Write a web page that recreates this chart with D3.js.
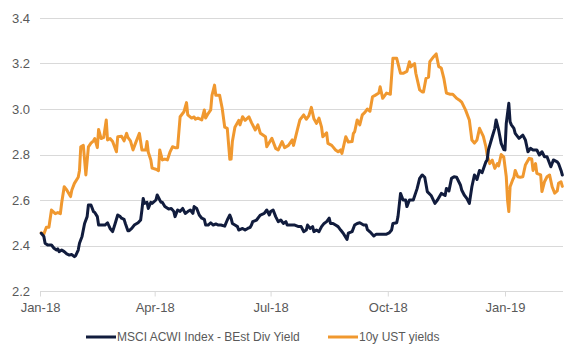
<!DOCTYPE html>
<html>
<head>
<meta charset="utf-8">
<script src="https://cdn.jsdelivr.net/npm/d3@7"></script>
<style>
  html, body { margin: 0; padding: 0; background: #ffffff; }
  svg { display: block; font-family: "Liberation Sans", Arial, sans-serif; }
</style>
</head>
<body>
<svg id="chart" width="582" height="360"></svg>
<script>
// ---- Data ----
const seriesNames = ["MSCI ACWI Index - BEst Div Yield", "10y UST yields"];
const yTicks = [2.2, 2.4, 2.6, 2.8, 3.0, 3.2, 3.4];
const xTickLabels = ["18-01-01", "18-04-01", "18-07-01", "18-10-01", "19-01-01"];

const ustDates = ["18-01-02","18-01-04","18-01-06","18-01-08","18-01-10","18-01-13","18-01-15","18-01-17","18-01-18","18-01-20","18-01-22","18-01-25","18-01-26","18-01-28","18-01-31","18-02-01","18-02-02","18-02-04","18-02-05","18-02-06","18-02-08","18-02-10","18-02-12","18-02-13","18-02-15","18-02-16","18-02-18","18-02-20","18-02-22","18-02-23","18-02-25","18-02-27","18-03-02","18-03-03","18-03-06","18-03-08","18-03-10","18-03-11","18-03-13","18-03-15","18-03-17","18-03-20","18-03-22","18-03-25","18-03-26","18-03-27","18-03-29","18-03-30","18-04-02","18-04-04","18-04-05","18-04-07","18-04-09","18-04-11","18-04-13","18-04-15","18-04-17","18-04-19","18-04-21","18-04-24","18-04-26","18-04-27","18-04-30","18-05-02","18-05-03","18-05-05","18-05-08","18-05-10","18-05-11","18-05-13","18-05-15","18-05-16","18-05-18","18-05-19","18-05-22","18-05-24","18-05-26","18-05-28","18-05-30","18-05-31","18-06-01","18-06-03","18-06-06","18-06-07","18-06-09","18-06-11","18-06-14","18-06-16","18-06-19","18-06-21","18-06-23","18-06-27","18-06-28","18-07-02","18-07-05","18-07-07","18-07-10","18-07-12","18-07-15","18-07-18","18-07-19","18-07-22","18-07-24","18-07-27","18-07-29","18-07-31","18-08-02","18-08-04","18-08-06","18-08-08","18-08-10","18-08-11","18-08-14","18-08-15","18-08-18","18-08-21","18-08-23","18-08-25","18-08-26","18-08-29","18-08-31","18-09-03","18-09-04","18-09-05","18-09-07","18-09-09","18-09-11","18-09-13","18-09-15","18-09-17","18-09-19","18-09-21","18-09-24","18-09-25","18-09-27","18-09-30","18-10-03","18-10-05","18-10-08","18-10-11","18-10-13","18-10-16","18-10-18","18-10-19","18-10-22","18-10-23","18-10-26","18-10-28","18-10-29","18-10-31","18-11-02","18-11-03","18-11-06","18-11-08","18-11-10","18-11-12","18-11-14","18-11-16","18-11-19","18-11-21","18-11-24","18-11-26","18-11-28","18-12-01","18-12-04","18-12-06","18-12-08","18-12-10","18-12-12","18-12-15","18-12-17","18-12-18","18-12-20","18-12-22","18-12-24","18-12-26","18-12-27","18-12-29","18-12-31","19-01-02","19-01-03","19-01-04","19-01-05","19-01-07","19-01-08","19-01-09","19-01-11","19-01-13","19-01-15","19-01-17","19-01-20","19-01-22","19-01-23","19-01-25","19-01-26","19-01-29","19-01-30","19-02-01","19-02-03","19-02-05","19-02-07","19-02-09","19-02-11","19-02-12","19-02-14","19-02-15"];
const ustValues = [2.456,2.45,2.48,2.48,2.556,2.54,2.545,2.54,2.587,2.658,2.644,2.615,2.644,2.673,2.70,2.73,2.834,2.84,2.776,2.71,2.834,2.85,2.86,2.87,2.83,2.91,2.87,2.875,2.952,2.864,2.87,2.857,2.812,2.878,2.88,2.86,2.893,2.875,2.86,2.82,2.85,2.893,2.82,2.82,2.857,2.81,2.776,2.74,2.735,2.729,2.82,2.776,2.78,2.776,2.81,2.834,2.83,2.83,2.966,2.988,3.028,2.974,2.96,2.965,2.955,2.96,2.952,2.996,2.96,2.98,2.996,3.06,3.105,3.06,3.06,3.003,2.92,2.915,2.779,2.78,2.857,2.92,2.95,2.93,2.966,2.95,2.966,2.94,2.908,2.93,2.893,2.878,2.834,2.871,2.827,2.82,2.857,2.83,2.84,2.864,2.84,2.908,2.952,2.974,2.955,2.97,3.007,2.957,2.937,2.96,2.92,2.878,2.895,2.849,2.84,2.82,2.812,2.82,2.805,2.878,2.855,2.857,2.893,2.9,2.952,2.93,2.974,2.985,3.0,2.99,3.054,3.06,3.07,3.098,3.047,3.07,3.065,3.223,3.223,3.157,3.157,3.165,3.208,3.185,3.2,3.157,3.084,3.075,3.075,3.135,3.14,3.208,3.23,3.242,3.186,3.18,3.135,3.07,3.065,3.065,3.047,3.04,3.03,2.996,2.952,2.864,2.85,2.864,2.915,2.88,2.834,2.798,2.76,2.775,2.739,2.76,2.75,2.8,2.79,2.702,2.6,2.549,2.658,2.688,2.7,2.73,2.702,2.7,2.702,2.754,2.783,2.78,2.73,2.76,2.717,2.71,2.637,2.68,2.702,2.71,2.658,2.63,2.64,2.673,2.68,2.66];

const acwiDates = ["18-01-02","18-01-04","18-01-05","18-01-07","18-01-10","18-01-12","18-01-14","18-01-15","18-01-16","18-01-18","18-01-20","18-01-22","18-01-24","18-01-26","18-01-28","18-01-29","18-01-31","18-02-01","18-02-03","18-02-05","18-02-07","18-02-08","18-02-10","18-02-12","18-02-13","18-02-15","18-02-16","18-02-19","18-02-21","18-02-23","18-02-25","18-02-27","18-03-01","18-03-03","18-03-05","18-03-06","18-03-08","18-03-09","18-03-11","18-03-12","18-03-14","18-03-16","18-03-19","18-03-21","18-03-22","18-03-23","18-03-24","18-03-26","18-03-27","18-03-29","18-03-30","18-04-02","18-04-03","18-04-05","18-04-06","18-04-07","18-04-09","18-04-12","18-04-14","18-04-16","18-04-17","18-04-19","18-04-21","18-04-23","18-04-25","18-04-27","18-04-29","18-05-01","18-05-02","18-05-04","18-05-06","18-05-08","18-05-10","18-05-11","18-05-13","18-05-15","18-05-17","18-05-19","18-05-21","18-05-23","18-05-26","18-05-28","18-05-30","18-05-31","18-06-01","18-06-03","18-06-05","18-06-06","18-06-09","18-06-11","18-06-13","18-06-15","18-06-16","18-06-17","18-06-20","18-06-22","18-06-23","18-06-26","18-06-28","18-06-30","18-07-01","18-07-03","18-07-05","18-07-07","18-07-09","18-07-11","18-07-13","18-07-14","18-07-17","18-07-20","18-07-23","18-07-25","18-07-27","18-07-29","18-07-30","18-08-01","18-08-03","18-08-04","18-08-06","18-08-08","18-08-10","18-08-12","18-08-14","18-08-16","18-08-17","18-08-19","18-08-21","18-08-23","18-08-25","18-08-27","18-08-30","18-08-31","18-09-03","18-09-05","18-09-07","18-09-09","18-09-12","18-09-14","18-09-15","18-09-17","18-09-20","18-09-22","18-09-25","18-09-27","18-09-30","18-10-02","18-10-04","18-10-05","18-10-08","18-10-09","18-10-11","18-10-13","18-10-15","18-10-16","18-10-18","18-10-21","18-10-24","18-10-26","18-10-28","18-10-30","18-11-01","18-11-04","18-11-07","18-11-09","18-11-12","18-11-15","18-11-16","18-11-18","18-11-20","18-11-22","18-11-24","18-11-27","18-11-28","18-11-30","18-12-02","18-12-04","18-12-06","18-12-08","18-12-10","18-12-12","18-12-14","18-12-17","18-12-18","18-12-19","18-12-22","18-12-24","18-12-25","18-12-27","18-12-29","18-12-31","19-01-01","19-01-02","19-01-03","19-01-04","19-01-05","19-01-06","19-01-08","19-01-09","19-01-12","19-01-15","19-01-17","19-01-19","19-01-21","19-01-23","19-01-26","19-01-28","19-01-30","19-02-01","19-02-03","19-02-06","19-02-08","19-02-11","19-02-12","19-02-14","19-02-15"];
const acwiValues = [2.454,2.44,2.41,2.402,2.402,2.388,2.38,2.385,2.373,2.38,2.373,2.363,2.358,2.36,2.351,2.356,2.38,2.41,2.44,2.497,2.527,2.578,2.578,2.549,2.545,2.527,2.49,2.49,2.49,2.5,2.475,2.461,2.497,2.534,2.527,2.52,2.515,2.497,2.465,2.465,2.475,2.49,2.5,2.512,2.556,2.607,2.585,2.59,2.563,2.59,2.585,2.6,2.622,2.6,2.59,2.59,2.571,2.56,2.563,2.55,2.527,2.556,2.55,2.563,2.541,2.549,2.556,2.541,2.571,2.563,2.534,2.52,2.515,2.49,2.49,2.5,2.49,2.495,2.49,2.49,2.485,2.512,2.534,2.52,2.497,2.49,2.483,2.468,2.475,2.468,2.475,2.48,2.49,2.505,2.512,2.527,2.534,2.541,2.556,2.534,2.549,2.556,2.527,2.505,2.512,2.497,2.505,2.49,2.49,2.49,2.483,2.483,2.461,2.468,2.49,2.475,2.483,2.461,2.468,2.461,2.483,2.497,2.505,2.52,2.497,2.497,2.49,2.483,2.468,2.454,2.427,2.454,2.461,2.49,2.497,2.5,2.49,2.49,2.47,2.46,2.442,2.45,2.45,2.45,2.45,2.455,2.468,2.497,2.5,2.527,2.629,2.6,2.6,2.571,2.6,2.6,2.65,2.695,2.71,2.7,2.637,2.62,2.585,2.6,2.629,2.62,2.651,2.64,2.695,2.702,2.7,2.666,2.644,2.622,2.607,2.585,2.658,2.71,2.69,2.73,2.72,2.768,2.776,2.82,2.878,2.915,2.952,2.908,2.849,2.822,2.82,2.937,2.98,3.025,2.944,2.93,2.915,2.893,2.871,2.885,2.864,2.812,2.827,2.82,2.82,2.798,2.812,2.79,2.79,2.746,2.776,2.768,2.76,2.73,2.71];

// ---- Setup ----
const parse = d3.timeParse("%y-%m-%d");
const colors = ["#111c3d", "#f0982f"];
const svg = d3.select("#chart");

const x = d3.scaleTime()
  .domain([parse("18-01-01"), parse("19-02-16")])
  .range([40, 563.6]);
const y = d3.scaleLinear().domain([2.2, 3.4]).range([291, 18]);

const ust = ustDates.map((d, i) => ({ date: parse(d), value: ustValues[i] }));
const acwi = acwiDates.map((d, i) => ({ date: parse(d), value: acwiValues[i] }));

// gridlines
svg.append("g").selectAll("line")
  .data(yTicks.filter(t => t > 2.2))
  .join("line")
  .attr("x1", 40).attr("x2", 563)
  .attr("y1", d => Math.round(y(d)) + 0.5).attr("y2", d => Math.round(y(d)) + 0.5)
  .attr("stroke", "#d9d9d9").attr("stroke-width", 1);

// y labels
svg.append("g").selectAll("text")
  .data(yTicks)
  .join("text")
  .attr("x", 30).attr("y", d => y(d))
  .attr("dy", "0.35em")
  .attr("text-anchor", "end")
  .attr("font-size", 13)
  .attr("fill", "#595959")
  .text(d => d.toFixed(1));

// x axis
const xAxis = d3.axisBottom(x)
  .tickValues(xTickLabels.map(parse))
  .tickFormat(d3.timeFormat("%b-%y"))
  .tickSize(5)
  .tickPadding(6);
const gx = svg.append("g")
  .attr("transform", `translate(0,${Math.round(y(2.2)) + 0.5})`)
  .call(xAxis);
gx.select(".domain").attr("d", "M40,0H563").attr("stroke", "#d9d9d9");
gx.selectAll(".tick line").attr("stroke", "#d9d9d9");
gx.selectAll(".tick text")
  .attr("font-size", 13)
  .attr("font-family", "'Liberation Sans', Arial, sans-serif")
  .attr("fill", "#595959");

// lines
const line = d3.line().x(d => x(d.date)).y(d => y(d.value));
svg.append("path").datum(ust)
  .attr("d", line).attr("fill", "none")
  .attr("stroke", colors[1]).attr("stroke-width", 3)
  .attr("stroke-linejoin", "round").attr("stroke-linecap", "round");
svg.append("path").datum(acwi)
  .attr("d", line).attr("fill", "none")
  .attr("stroke", colors[0]).attr("stroke-width", 3)
  .attr("stroke-linejoin", "round").attr("stroke-linecap", "round");

// legend
const legendItems = [
  { name: seriesNames[0], color: colors[0], x0: 86 },
  { name: seriesNames[1], color: colors[1], x0: 328 }
];
const lg = svg.append("g").selectAll("g").data(legendItems).join("g")
  .attr("transform", d => `translate(${d.x0},337)`);
lg.append("line").attr("x1", 0).attr("x2", 30).attr("y1", 0).attr("y2", 0)
  .attr("stroke", d => d.color).attr("stroke-width", 3);
lg.append("text").attr("x", 31).attr("y", 0).attr("dy", "0.35em")
  .attr("font-size", 12).attr("fill", "#595959")
  .text(d => d.name);
</script>
</body>
</html>
